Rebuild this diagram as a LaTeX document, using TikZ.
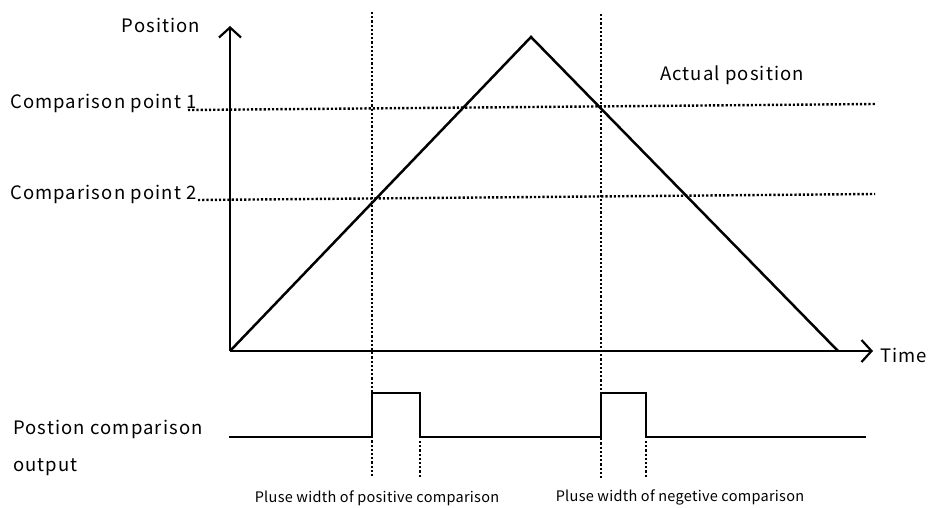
\documentclass[tikz,border=0pt]{standalone}
\usepackage{fontspec}
\setmainfont{Noto Sans CJK SC}
\newfontfamily\bigfont[LetterSpace=6]{Noto Sans CJK SC}
\newfontfamily\smallfont[LetterSpace=2]{Noto Sans CJK SC}
\usetikzlibrary{arrows.meta}
\begin{document}
\begin{tikzpicture}[x=1pt,y=-1pt,
  solidline/.style={line width=2.5pt, line join=miter},
  dotline/.style={line width=2.4pt, dash pattern=on 2.2pt off 2pt},
  axisarrow/.style={line width=2.5pt, -{Straight Barb[length=10pt,width=22pt,line width=2.2pt]}},
  lbl/.style={font=\bigfont\fontsize{18.5}{22}\selectfont, inner sep=0pt},
  smalllbl/.style={font=\smallfont\fontsize{14.5}{17}\selectfont, inner sep=0pt}]
\useasboundingbox (0,0) rectangle (931,508);
% coordinates
\coordinate (O) at (230,351);
\coordinate (ytop) at (230,26);
\coordinate (xend) at (873,351);
\coordinate (peak) at (531,37);
\coordinate (tend) at (838,351);
% comparison levels
\coordinate (c1a) at (188,110);
\coordinate (c1b) at (875,104);
\coordinate (c2a) at (198,200);
\coordinate (c2b) at (875,194);
% verticals
\coordinate (v1t) at (372,12);
\coordinate (v1b) at (372,478);
\coordinate (v2t) at (601,14);
\coordinate (v2b) at (601,478);
\coordinate (s1t) at (420,441);
\coordinate (s1b) at (420,477);
\coordinate (s2t) at (646,441);
\coordinate (s2b) at (646,477);
% dotted lines
\draw[dotline] (c1a) -- (c1b);
\draw[dotline] (c2a) -- (c2b);
\draw[dotline] (v1t) -- (v1b);
\draw[dotline] (v2t) -- (v2b);
\draw[dotline] (s1t) -- (s1b);
\draw[dotline] (s2t) -- (s2b);
% axes
\draw[axisarrow] (O) -- (ytop);
\draw[axisarrow] (O) -- (xend);
% triangle
\draw[solidline] (O) -- (peak) -- (tend);
% pulse output
\coordinate (p0) at (229,437);
\coordinate (p1) at (372,437);
\coordinate (p2) at (372,393);
\coordinate (p3) at (420,393);
\coordinate (p4) at (420,437);
\coordinate (p5) at (601,437);
\coordinate (p6) at (601,393);
\coordinate (p7) at (646,393);
\coordinate (p8) at (646,437);
\coordinate (p9) at (866,437);
\draw[solidline] (p0) -- (p1) -- (p2) -- (p3) -- (p4) -- (p5) -- (p6) -- (p7) -- (p8) -- (p9);
% labels
\node[lbl] (position) at (161,25) {Position};
\node[lbl, anchor=west] (cp1) at (10,103) {Comparison point 1};
\node[lbl, anchor=west] (cp2) at (10,194) {Comparison point 2};
\node[lbl] (actual) at (732,75) {Actual position};
\node[lbl, anchor=west] (time) at (880,355) {Time};
\node[lbl, anchor=west] (out1) at (13,429) {Postion comparison};
\node[lbl, anchor=west] (out2) at (13,467) {output};
\node[smalllbl] (pos) at (377,498) {Pluse width of positive comparison};
\node[smalllbl] (neg) at (680,497) {Pluse width of negetive comparison};
\end{tikzpicture}
\end{document}
